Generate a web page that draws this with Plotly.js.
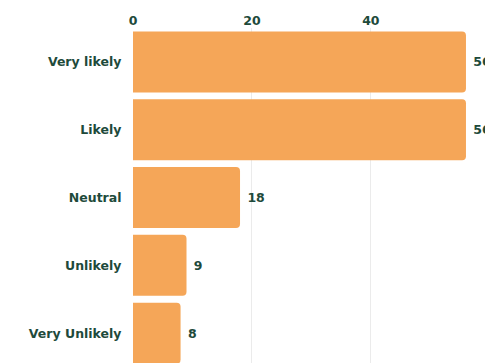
<!DOCTYPE html>
<html>
<head>
<meta charset="utf-8">
<script src="https://cdn.plot.ly/plotly-3.0.1.min.js"></script>
<style>html,body{margin:0;padding:0;overflow:hidden;background:#fff;}</style>
</head>
<body>
<div id="chart" style="width:485px;height:363px;"></div>
<script>
const categories = ["Very likely", "Likely", "Neutral", "Unlikely", "Very Unlikely"];
const values = [56, 56, 18, 9, 8];
const xTicks = [0, 20, 40];

const textColor = "#1e4a3b";
const barColor = "#f5a658";

Plotly.newPlot("chart", [{
  type: "bar",
  orientation: "h",
  y: categories,
  x: values,
  text: values.map(v => " " + v),
  textposition: "outside",
  cliponaxis: false,
  textfont: {family: "DejaVu Sans", size: 12.5, color: textColor, weight: "bold"},
  marker: {color: barColor, cornerradius: 4},
  hoverinfo: "none"
}], {
  width: 485,
  height: 363,
  margin: {l: 133, r: 0, t: 28, b: 0},
  paper_bgcolor: "#ffffff",
  plot_bgcolor: "#ffffff",
  bargap: 0.1,
  showlegend: false,
  font: {family: "DejaVu Sans", color: textColor},
  xaxis: {
    side: "top",
    range: [0, 59.2],
    tickvals: xTicks,
    ticktext: xTicks.map(String),
    tickfont: {family: "DejaVu Sans", size: 12.5, color: textColor, weight: "bold"},
    showgrid: true,
    gridcolor: "#ebebeb",
    zeroline: false,
    showline: false,
    ticks: ""
  },
  yaxis: {
    type: "category",
    range: [4.44, -0.5],
    tickfont: {family: "DejaVu Sans", size: 12.5, color: textColor, weight: "bold"},
    showgrid: false,
    zeroline: false,
    showline: false,
    ticks: "outside",
    ticklen: 8,
    tickcolor: "rgba(0,0,0,0)"
  }
}, {displayModeBar: false, staticPlot: true});
</script>
</body>
</html>
